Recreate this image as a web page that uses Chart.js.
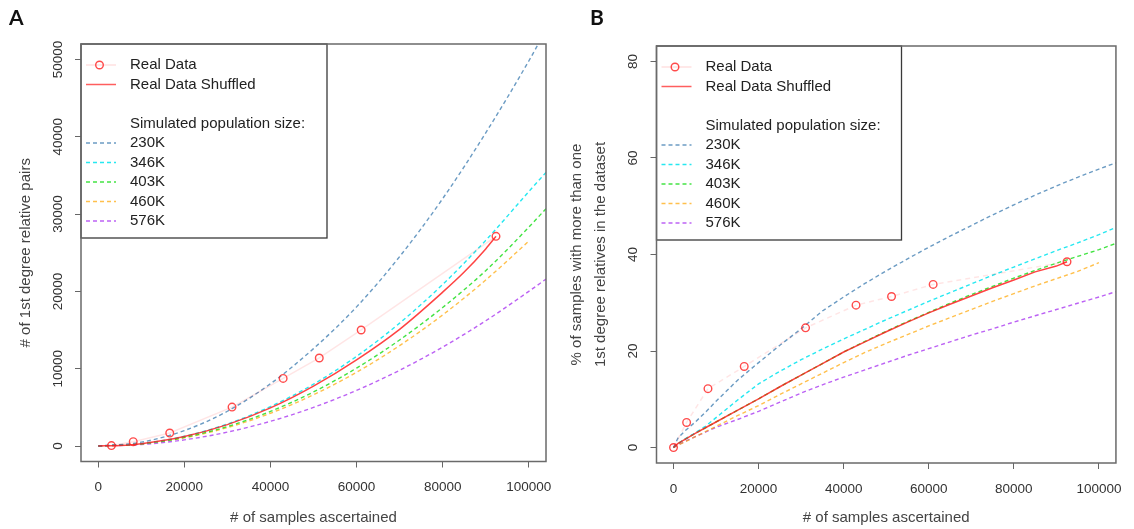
<!DOCTYPE html>
<html>
<head>
<meta charset="utf-8">
<script src="https://cdn.jsdelivr.net/npm/chart.js@4.4.1/dist/chart.umd.min.js"></script>
<style>
    html, body { margin: 0; padding: 0; background: #fff; }
    #wrap { position: relative; width: 1134px; height: 529px; overflow: hidden; }
    canvas { position: absolute; top: 0; }
    #chartA { left: 0; }
    #chartB { left: 567px; }
    .tag { position: absolute; top: 4px; font: bold 21px Lato, sans-serif; color: #111; line-height: 25px; }
</style>
</head>
<body>
<div id="wrap">
    <canvas id="chartA" width="567" height="529"></canvas>
    <canvas id="chartB" width="567" height="529"></canvas>
    <div class="tag" style="left:9px">A</div>
    <div class="tag" style="left:590px">B</div>
</div>
<script>
// ---- ticks and labels ----
const xTicks = [0, 20000, 40000, 60000, 80000, 100000];
const yTicksA = [0, 10000, 20000, 30000, 40000, 50000];
const yTicksB = [0, 20, 40, 60, 80];
const popLabels = ['230K', '346K', '403K', '460K', '576K'];

// ---- panel A: # of 1st degree relative pairs ----
const realXA = [3070, 8130, 16610, 31080, 42950, 51340, 61070, 92390];
const realYA = [60, 560, 1680, 5040, 8750, 11390, 15010, 27120];
const shufXA = [0, 5000, 10000, 20000, 30000, 40000, 50000, 60000, 70000, 80000, 85000, 90000, 92390];
const shufYA = [0, 80, 310, 1230, 2770, 4930, 7750, 11150, 15100, 19900, 22500, 25500, 27120];
const simXA = [0, 10000, 20000, 30000, 40000, 50000, 60000, 70000, 80000, 90000, 100000, 104000];
const sim230A = [0, 500, 2000, 4500, 8050, 12600, 18000, 24500, 32000, 40500, 49800, 53800];
const sim346A = [0, 310, 1260, 2850, 5100, 8000, 11600, 15900, 20900, 26600, 32900, 35400];
const sim403A = [0, 280, 1120, 2520, 4480, 7000, 10080, 13720, 17920, 22680, 28300, 30700];
const sim460A = [0, 265, 1060, 2390, 4240, 6630, 9540, 12990, 16960, 21470, 26500, null];
const sim576A = [0, 200, 800, 1800, 3200, 5000, 7200, 9800, 12800, 16200, 20000, 21600];

// ---- panel B: % of samples with more than one 1st degree relative ----
const realXB = [0, 3080, 8100, 16620, 31040, 42900, 51250, 61030, 92500];
const realYB = [0, 5.2, 12.2, 16.8, 24.8, 29.5, 31.3, 33.8, 38.5];
const shufXB = [0, 1000, 2500, 5000, 7500, 10000, 15000, 20000, 25000, 30000, 35000, 40000, 45000, 50000, 55000, 60000, 65000, 70000, 75000, 80000, 85000, 90000, 92500];
const shufYB = [0, 0.8, 1.6, 2.9, 4.1, 5.3, 7.7, 10.1, 12.6, 15.0, 17.4, 19.8, 21.9, 24.0, 26.0, 27.9, 29.7, 31.4, 33.1, 34.7, 36.4, 37.6, 38.5];
const simXB = [0, 1000, 2500, 5000, 7500, 10000, 15000, 20000, 25000, 30000, 35000, 40000, 45000, 50000, 55000, 60000, 65000, 70000, 75000, 80000, 85000, 90000, 95000, 100000, 104000];
const sim230B = [0, 1.9, 3.3, 5.2, 7.3, 9.6, 13.9, 17.6, 21.2, 24.6, 28.3, 31.2, 34.0, 36.6, 39.1, 41.5, 43.8, 46.0, 48.2, 50.3, 52.3, 54.2, 56.0, 57.7, 59.0];
const sim346B = [0, 0.8, 1.7, 3.0, 4.4, 6.2, 9.8, 13.2, 15.8, 18.2, 20.4, 22.5, 24.5, 26.5, 28.4, 30.3, 32.1, 33.9, 35.7, 37.4, 39.1, 40.8, 42.4, 44.1, 45.6];
const sim403B = [0, 0.8, 1.6, 2.9, 4.1, 5.3, 7.7, 10.1, 12.6, 15.0, 17.4, 19.8, 22.0, 24.1, 26.1, 28.0, 29.9, 31.7, 33.4, 35.1, 36.7, 38.2, 39.6, 41.0, 42.3];
const sim460B = [0, 0.5, 1.1, 2.2, 3.3, 4.4, 6.6, 8.7, 11.0, 13.2, 15.4, 17.6, 19.7, 21.6, 23.4, 25.2, 26.9, 28.6, 30.3, 31.9, 33.5, 35.0, 36.5, 38.3, null];
const sim576B = [0, 0.5, 1.2, 2.2, 3.2, 4.2, 5.8, 7.5, 9.4, 11.3, 13.0, 14.6, 16.1, 17.6, 19.1, 20.5, 21.9, 23.3, 24.6, 26.0, 27.3, 28.6, 29.9, 31.2, 32.3];

const FONT = "'Liberation Sans', Arial, sans-serif";
const popColors = ['rgba(70,130,180,0.8)', 'rgba(0,228,238,0.85)', 'rgba(20,220,20,0.8)', 'rgba(255,165,0,0.7)', 'rgba(160,32,240,0.7)'];
const DASH = [4, 3];

const pts = (xs, ys) => xs.map((x, i) => ({ x: x, y: ys[i] }));

// R-style box, rotated y labels, titles and legend
const rDecor = {
    id: 'rDecor',
    afterDraw(chart, args, o) {
        const { ctx, chartArea: a, scales } = chart;
        ctx.save();

        // legend
        const L = a.left, T = a.top;
        ctx.fillStyle = '#fff';
        ctx.fillRect(L, T, o.legendW, 194);
        ctx.strokeStyle = '#3a3a3a';
        ctx.lineWidth = 1.3;
        ctx.strokeRect(L, T, o.legendW, 194);

        const rowY = i => T + 21 + i * 19.5;
        ctx.font = `15px ${FONT}`;
        ctx.textAlign = 'left';
        ctx.textBaseline = 'middle';

        const seg = (y, color, width, dash) => {
            ctx.beginPath();
            ctx.setLineDash(dash);
            ctx.strokeStyle = color;
            ctx.lineWidth = width;
            ctx.moveTo(L + 5, y);
            ctx.lineTo(L + 35, y);
            ctx.stroke();
            ctx.setLineDash([]);
        };

        seg(rowY(0), 'rgba(255,0,0,0.12)', 1.5, []);
        ctx.beginPath();
        ctx.strokeStyle = 'rgba(255,30,30,0.8)';
        ctx.lineWidth = 1.4;
        ctx.arc(L + 18.5, rowY(0), 3.8, 0, Math.PI * 2);
        ctx.stroke();
        seg(rowY(1), 'rgba(255,40,40,0.75)', 1.5, []);

        ctx.fillStyle = '#222';
        ctx.fillText('Real Data', L + 49, rowY(0));
        ctx.fillText('Real Data Shuffled', L + 49, rowY(1));
        ctx.fillText('Simulated population size:', L + 49, rowY(3));
        popLabels.forEach((lab, i) => {
            seg(rowY(4 + i), popColors[i], 1.4, DASH);
            ctx.fillStyle = '#222';
            ctx.fillText(lab, L + 49, rowY(4 + i));
        });

        // plot box
        ctx.strokeStyle = '#6a6a6a';
        ctx.lineWidth = 1.5;
        ctx.strokeRect(a.left, a.top, a.right - a.left, a.bottom - a.top);

        // y tick labels, rotated like R's default
        ctx.fillStyle = '#333';
        ctx.font = `13.5px ${FONT}`;
        ctx.textAlign = 'center';
        ctx.textBaseline = 'middle';
        scales.y.ticks.forEach(t => {
            const y = scales.y.getPixelForValue(t.value);
            ctx.save();
            ctx.translate(a.left - 23, y);
            ctx.rotate(-Math.PI / 2);
            ctx.fillText(String(t.value), 0, 0);
            ctx.restore();
        });

        // y title
        ctx.fillStyle = '#444';
        ctx.font = `15px ${FONT}`;
        const midY = (a.top + a.bottom) / 2;
        o.yTitle.forEach((line, i) => {
            ctx.save();
            ctx.translate(o.yTitleX[i], midY);
            ctx.rotate(-Math.PI / 2);
            ctx.fillText(line, 0, 0);
            ctx.restore();
        });

        ctx.restore();
    }
};

const makeChart = (id, c) => {
    const gridOpts = { display: true, drawOnChartArea: false, drawTicks: true, tickLength: 6, color: '#666', lineWidth: 1 };
    const simSets = c.sims.map((ys, i) => ({
        data: pts(c.simX, ys),
        borderColor: popColors[i],
        borderWidth: 1.4,
        borderDash: DASH,
        pointRadius: 0,
        tension: c.smooth ? 0.4 : 0,
        cubicInterpolationMode: c.smooth ? 'monotone' : 'default',
        spanGaps: false
    }));

    return new Chart(document.getElementById(id), {
        type: 'line',
        data: {
            datasets: [
                {
                    data: pts(c.realX, c.realY),
                    borderColor: 'rgba(255,0,0,0.1)',
                    borderWidth: 1.5,
                    borderDash: c.realDash,
                    pointRadius: 3.8,
                    pointBorderWidth: 1.4,
                    pointBorderColor: 'rgba(255,30,30,0.8)',
                    pointBackgroundColor: 'rgba(0,0,0,0)',
                    tension: 0
                },
                {
                    data: pts(c.shufX, c.shufY),
                    borderColor: 'rgba(255,20,20,0.8)',
                    borderWidth: 1.5,
                    pointRadius: 0,
                    tension: c.smooth ? 0.4 : 0,
                    cubicInterpolationMode: c.smooth ? 'monotone' : 'default'
                },
                ...simSets
            ]
        },
        options: {
            responsive: false,
            animation: false,
            events: [],
            layout: { padding: { left: 0, right: c.padRight, top: c.padTop, bottom: 0 } },
            plugins: {
                legend: { display: false },
                tooltip: { enabled: false },
                rDecor: { legendW: c.legendW, yTitle: c.yTitle, yTitleX: c.yTitleX }
            },
            scales: {
                x: {
                    type: 'linear',
                    min: -4000,
                    max: 104000,
                    afterBuildTicks: s => { s.ticks = xTicks.map(v => ({ value: v })); },
                    afterFit: s => { s.height = c.xHeight; },
                    grid: gridOpts,
                    border: { display: false },
                    ticks: {
                        color: '#333',
                        font: { family: FONT, size: 13.5 },
                        padding: 12,
                        maxRotation: 0,
                        autoSkip: false,
                        callback: v => String(v)
                    },
                    title: {
                        display: true,
                        text: '# of samples ascertained',
                        color: '#444',
                        font: { family: FONT, size: 15 },
                        padding: { top: 0, bottom: 2 }
                    }
                },
                y: {
                    type: 'linear',
                    min: c.yMin,
                    max: c.yMax,
                    afterBuildTicks: s => { s.ticks = c.yTicks.map(v => ({ value: v })); },
                    afterFit: s => { s.width = c.yWidth; },
                    grid: gridOpts,
                    border: { display: false },
                    ticks: { display: false }
                }
            }
        },
        plugins: [rDecor]
    });
};

makeChart('chartA', {
    realX: realXA, realY: realYA, realDash: [],
    shufX: shufXA, shufY: shufYA,
    simX: simXA, sims: [sim230A, sim346A, sim403A, sim460A, sim576A],
    smooth: true,
    yMin: -2000, yMax: 52000, yTicks: yTicksA,
    yWidth: 81, xHeight: 67.5, padTop: 44, padRight: 21,
    legendW: 246,
    yTitle: ['# of 1st degree relative pairs'], yTitleX: [26]
});

makeChart('chartB', {
    realX: realXB, realY: realYB, realDash: [5, 4],
    shufX: shufXB, shufY: shufYB,
    simX: simXB, sims: [sim230B, sim346B, sim403B, sim460B, sim576B],
    smooth: false,
    yMin: -3.2, yMax: 83.2, yTicks: yTicksB,
    yWidth: 89.5, xHeight: 66, padTop: 46, padRight: 15,
    legendW: 245,
    yTitle: ['% of samples with more than one', '1st degree relatives in the dataset'], yTitleX: [10, 33.5]
});
</script>
</body>
</html>
